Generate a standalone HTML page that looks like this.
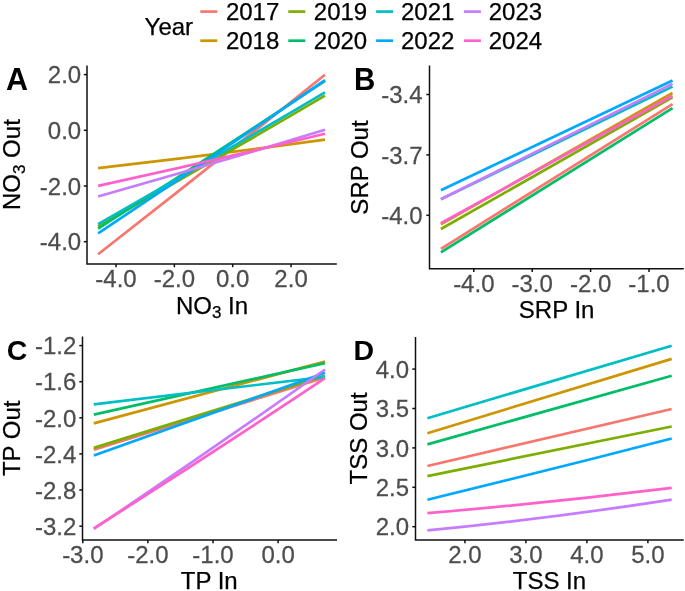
<!DOCTYPE html>
<html><head><meta charset="utf-8"><style>
html,body{margin:0;padding:0;background:#fff;}
svg{display:block;will-change:transform;}
text{font-family:"Liberation Sans",sans-serif;}
.t{font-size:24px;fill:#000;stroke:#000;stroke-width:0.25px;}
.l{font-size:24px;fill:#4D4D4D;stroke:#4D4D4D;stroke-width:0.25px;}
.b{font-weight:bold;fill:#000;}
</style></head><body>
<svg width="685" height="591" viewBox="0 0 685 591">
<rect width="685" height="591" fill="#fff"/>
<text transform="translate(144.60 34.70) scale(1 1.0)" class="t">Year</text>
<line x1="200.3" y1="11.6" x2="217.3" y2="11.6" stroke="#F8766D" stroke-width="2.7"/>
<text transform="translate(225.90 20.35) scale(1 1.0)" class="t">2017</text>
<line x1="200.3" y1="40.7" x2="217.3" y2="40.7" stroke="#CD9600" stroke-width="2.7"/>
<text transform="translate(225.90 49.40) scale(1 1.0)" class="t">2018</text>
<line x1="288.3" y1="11.6" x2="305.3" y2="11.6" stroke="#7CAE00" stroke-width="2.7"/>
<text transform="translate(313.80 20.35) scale(1 1.0)" class="t">2019</text>
<line x1="288.3" y1="40.7" x2="305.3" y2="40.7" stroke="#00BE67" stroke-width="2.7"/>
<text transform="translate(313.80 49.40) scale(1 1.0)" class="t">2020</text>
<line x1="376.1" y1="11.6" x2="393.1" y2="11.6" stroke="#00BFC4" stroke-width="2.7"/>
<text transform="translate(401.00 20.35) scale(1 1.0)" class="t">2021</text>
<line x1="376.1" y1="40.7" x2="393.1" y2="40.7" stroke="#00A9FF" stroke-width="2.7"/>
<text transform="translate(401.00 49.40) scale(1 1.0)" class="t">2022</text>
<line x1="463.9" y1="11.6" x2="480.9" y2="11.6" stroke="#C77CFF" stroke-width="2.7"/>
<text transform="translate(488.70 20.35) scale(1 1.0)" class="t">2023</text>
<line x1="463.9" y1="40.7" x2="480.9" y2="40.7" stroke="#FF61CC" stroke-width="2.7"/>
<text transform="translate(488.70 49.40) scale(1 1.0)" class="t">2024</text>
<path d="M87 65.4V264H336.8" fill="none" stroke="#111111" stroke-width="1.5" stroke-linecap="butt" stroke-linejoin="miter"/>
<line x1="83.8" y1="74.6" x2="87" y2="74.6" stroke="#111111" stroke-width="1.5"/>
<text transform="translate(81.20 83.30) scale(1 1.02)" class="l" text-anchor="end">2.0</text>
<line x1="83.8" y1="130.3" x2="87" y2="130.3" stroke="#111111" stroke-width="1.5"/>
<text transform="translate(81.20 139.00) scale(1 1.02)" class="l" text-anchor="end">0.0</text>
<line x1="83.8" y1="186.0" x2="87" y2="186.0" stroke="#111111" stroke-width="1.5"/>
<text transform="translate(81.20 194.70) scale(1 1.02)" class="l" text-anchor="end">-2.0</text>
<line x1="83.8" y1="241.7" x2="87" y2="241.7" stroke="#111111" stroke-width="1.5"/>
<text transform="translate(81.20 250.40) scale(1 1.02)" class="l" text-anchor="end">-4.0</text>
<line x1="116" y1="264" x2="116" y2="267.2" stroke="#111111" stroke-width="1.5"/>
<text transform="translate(116.00 287.30) scale(1 1.02)" class="l" text-anchor="middle">-4.0</text>
<line x1="174.35" y1="264" x2="174.35" y2="267.2" stroke="#111111" stroke-width="1.5"/>
<text transform="translate(174.35 287.30) scale(1 1.02)" class="l" text-anchor="middle">-2.0</text>
<line x1="232.7" y1="264" x2="232.7" y2="267.2" stroke="#111111" stroke-width="1.5"/>
<text transform="translate(232.70 287.30) scale(1 1.02)" class="l" text-anchor="middle">0.0</text>
<line x1="291.05" y1="264" x2="291.05" y2="267.2" stroke="#111111" stroke-width="1.5"/>
<text transform="translate(291.05 287.30) scale(1 1.02)" class="l" text-anchor="middle">2.0</text>
<path d="M98.1 254.30Q211.55 165.70 325 74.70" fill="none" stroke="#F8766D" stroke-width="2.7"/>
<path d="M98.1 168.10Q211.55 155.05 325 139.60" fill="none" stroke="#CD9600" stroke-width="2.7"/>
<path d="M98.1 226.30Q211.55 162.15 325 95.60" fill="none" stroke="#7CAE00" stroke-width="2.7"/>
<path d="M98.1 228.60Q211.55 155.90 325 80.80" fill="none" stroke="#00BE67" stroke-width="2.7"/>
<path d="M98.1 224.20Q211.55 159.50 325 92.40" fill="none" stroke="#00BFC4" stroke-width="2.7"/>
<path d="M98.1 233.40Q211.55 157.95 325 80.10" fill="none" stroke="#00A9FF" stroke-width="2.7"/>
<path d="M98.1 196.50Q211.55 164.35 325 129.80" fill="none" stroke="#C77CFF" stroke-width="2.7"/>
<path d="M98.1 185.90Q211.55 161.05 325 133.80" fill="none" stroke="#FF61CC" stroke-width="2.7"/>
<text transform="translate(212.00 313.80) scale(1 1.0)" class="t" text-anchor="middle">NO<tspan style="font-size:17px" dy="4.2">3</tspan><tspan dy="-4.2"> In</tspan></text>
<text transform="translate(20.4 164.6) rotate(-90)" class="t" text-anchor="middle">NO<tspan style="font-size:17px" dy="4.2">3</tspan><tspan dy="-4.2"> Out</tspan></text>
<text transform="translate(5.90 89.90) scale(1 1.0)" class="b" style="font-size:30.5px">A</text>
<path d="M429.5 65.6V268.8H683.8" fill="none" stroke="#111111" stroke-width="1.5" stroke-linecap="butt" stroke-linejoin="miter"/>
<line x1="426.3" y1="94.5" x2="429.5" y2="94.5" stroke="#111111" stroke-width="1.5"/>
<text transform="translate(422.50 103.20) scale(1 1.02)" class="l" text-anchor="end">-3.4</text>
<line x1="426.3" y1="154.9" x2="429.5" y2="154.9" stroke="#111111" stroke-width="1.5"/>
<text transform="translate(422.50 163.60) scale(1 1.02)" class="l" text-anchor="end">-3.7</text>
<line x1="426.3" y1="215.3" x2="429.5" y2="215.3" stroke="#111111" stroke-width="1.5"/>
<text transform="translate(422.50 224.00) scale(1 1.02)" class="l" text-anchor="end">-4.0</text>
<line x1="473.8" y1="268.8" x2="473.8" y2="272.0" stroke="#111111" stroke-width="1.5"/>
<text transform="translate(473.80 292.40) scale(1 1.02)" class="l" text-anchor="middle">-4.0</text>
<line x1="532.2" y1="268.8" x2="532.2" y2="272.0" stroke="#111111" stroke-width="1.5"/>
<text transform="translate(532.20 292.40) scale(1 1.02)" class="l" text-anchor="middle">-3.0</text>
<line x1="590.6" y1="268.8" x2="590.6" y2="272.0" stroke="#111111" stroke-width="1.5"/>
<text transform="translate(590.60 292.40) scale(1 1.02)" class="l" text-anchor="middle">-2.0</text>
<line x1="649.0" y1="268.8" x2="649.0" y2="272.0" stroke="#111111" stroke-width="1.5"/>
<text transform="translate(649.00 292.40) scale(1 1.02)" class="l" text-anchor="middle">-1.0</text>
<line x1="440.9" y1="248.80" x2="672.5" y2="104.20" stroke="#F8766D" stroke-width="2.7"/>
<line x1="440.9" y1="224.40" x2="672.5" y2="93.00" stroke="#CD9600" stroke-width="2.7"/>
<line x1="440.9" y1="229.00" x2="672.5" y2="97.40" stroke="#7CAE00" stroke-width="2.7"/>
<line x1="440.9" y1="252.30" x2="672.5" y2="108.20" stroke="#00BE67" stroke-width="2.7"/>
<line x1="440.9" y1="199.30" x2="672.5" y2="86.60" stroke="#00BFC4" stroke-width="2.7"/>
<line x1="440.9" y1="190.30" x2="672.5" y2="80.50" stroke="#00A9FF" stroke-width="2.7"/>
<line x1="440.9" y1="199.20" x2="672.5" y2="83.90" stroke="#C77CFF" stroke-width="2.7"/>
<line x1="440.9" y1="223.30" x2="672.5" y2="95.70" stroke="#FF61CC" stroke-width="2.7"/>
<text transform="translate(556.60 318.10) scale(1 1.0)" class="t" text-anchor="middle">SRP In</text>
<text transform="translate(367.5 167.5) rotate(-90)" class="t" text-anchor="middle">SRP Out</text>
<text transform="translate(353.90 90.00) scale(1 1.04)" class="b" style="font-size:29.5px">B</text>
<path d="M82.5 336.6V540.0H337" fill="none" stroke="#111111" stroke-width="1.5" stroke-linecap="butt" stroke-linejoin="miter"/>
<line x1="79.3" y1="345.6" x2="82.5" y2="345.6" stroke="#111111" stroke-width="1.5"/>
<text transform="translate(76.30 354.30) scale(1 1.02)" class="l" text-anchor="end">-1.2</text>
<line x1="79.3" y1="381.7" x2="82.5" y2="381.7" stroke="#111111" stroke-width="1.5"/>
<text transform="translate(76.30 390.40) scale(1 1.02)" class="l" text-anchor="end">-1.6</text>
<line x1="79.3" y1="417.8" x2="82.5" y2="417.8" stroke="#111111" stroke-width="1.5"/>
<text transform="translate(76.30 426.50) scale(1 1.02)" class="l" text-anchor="end">-2.0</text>
<line x1="79.3" y1="453.9" x2="82.5" y2="453.9" stroke="#111111" stroke-width="1.5"/>
<text transform="translate(76.30 462.60) scale(1 1.02)" class="l" text-anchor="end">-2.4</text>
<line x1="79.3" y1="490.0" x2="82.5" y2="490.0" stroke="#111111" stroke-width="1.5"/>
<text transform="translate(76.30 498.70) scale(1 1.02)" class="l" text-anchor="end">-2.8</text>
<line x1="79.3" y1="526.2" x2="82.5" y2="526.2" stroke="#111111" stroke-width="1.5"/>
<text transform="translate(76.30 534.90) scale(1 1.02)" class="l" text-anchor="end">-3.2</text>
<line x1="82.8" y1="540.0" x2="82.8" y2="543.2" stroke="#111111" stroke-width="1.5"/>
<text transform="translate(82.80 562.70) scale(1 1.02)" class="l" text-anchor="middle">-3.0</text>
<line x1="147.9" y1="540.0" x2="147.9" y2="543.2" stroke="#111111" stroke-width="1.5"/>
<text transform="translate(147.90 562.70) scale(1 1.02)" class="l" text-anchor="middle">-2.0</text>
<line x1="213.0" y1="540.0" x2="213.0" y2="543.2" stroke="#111111" stroke-width="1.5"/>
<text transform="translate(213.00 562.70) scale(1 1.02)" class="l" text-anchor="middle">-1.0</text>
<line x1="278.1" y1="540.0" x2="278.1" y2="543.2" stroke="#111111" stroke-width="1.5"/>
<text transform="translate(278.10 562.70) scale(1 1.02)" class="l" text-anchor="middle">0.0</text>
<line x1="93.8" y1="449.60" x2="325" y2="377.50" stroke="#F8766D" stroke-width="2.7"/>
<line x1="93.8" y1="423.40" x2="325" y2="361.50" stroke="#CD9600" stroke-width="2.7"/>
<line x1="93.8" y1="447.90" x2="325" y2="375.80" stroke="#7CAE00" stroke-width="2.7"/>
<line x1="93.8" y1="414.60" x2="325" y2="363.10" stroke="#00BE67" stroke-width="2.7"/>
<line x1="93.8" y1="404.30" x2="325" y2="376.80" stroke="#00BFC4" stroke-width="2.7"/>
<line x1="93.8" y1="455.40" x2="325" y2="372.80" stroke="#00A9FF" stroke-width="2.7"/>
<path d="M93.8 528.90Q209.40 451.20 325 369.50" fill="none" stroke="#C77CFF" stroke-width="2.7"/>
<path d="M93.8 528.40Q209.40 455.25 325 378.10" fill="none" stroke="#FF61CC" stroke-width="2.7"/>
<text transform="translate(209.20 588.80) scale(1 1.0)" class="t" text-anchor="middle">TP In</text>
<text transform="translate(20.3 438.3) rotate(-90)" class="t" text-anchor="middle">TP Out</text>
<text transform="translate(6.70 360.20) scale(1 1.0)" class="b" style="font-size:28.5px">C</text>
<path d="M415.5 336.9V540.0H683.8" fill="none" stroke="#111111" stroke-width="1.5" stroke-linecap="butt" stroke-linejoin="miter"/>
<line x1="412.3" y1="369.1" x2="415.5" y2="369.1" stroke="#111111" stroke-width="1.5"/>
<text transform="translate(409.10 377.80) scale(1 1.02)" class="l" text-anchor="end">4.0</text>
<line x1="412.3" y1="408.5" x2="415.5" y2="408.5" stroke="#111111" stroke-width="1.5"/>
<text transform="translate(409.10 417.20) scale(1 1.02)" class="l" text-anchor="end">3.5</text>
<line x1="412.3" y1="447.9" x2="415.5" y2="447.9" stroke="#111111" stroke-width="1.5"/>
<text transform="translate(409.10 456.60) scale(1 1.02)" class="l" text-anchor="end">3.0</text>
<line x1="412.3" y1="487.3" x2="415.5" y2="487.3" stroke="#111111" stroke-width="1.5"/>
<text transform="translate(409.10 496.00) scale(1 1.02)" class="l" text-anchor="end">2.5</text>
<line x1="412.3" y1="526.7" x2="415.5" y2="526.7" stroke="#111111" stroke-width="1.5"/>
<text transform="translate(409.10 535.40) scale(1 1.02)" class="l" text-anchor="end">2.0</text>
<line x1="464.9" y1="540.0" x2="464.9" y2="543.2" stroke="#111111" stroke-width="1.5"/>
<text transform="translate(464.90 562.50) scale(1 1.02)" class="l" text-anchor="middle">2.0</text>
<line x1="525.9" y1="540.0" x2="525.9" y2="543.2" stroke="#111111" stroke-width="1.5"/>
<text transform="translate(525.90 562.50) scale(1 1.02)" class="l" text-anchor="middle">3.0</text>
<line x1="586.9" y1="540.0" x2="586.9" y2="543.2" stroke="#111111" stroke-width="1.5"/>
<text transform="translate(586.90 562.50) scale(1 1.02)" class="l" text-anchor="middle">4.0</text>
<line x1="647.9" y1="540.0" x2="647.9" y2="543.2" stroke="#111111" stroke-width="1.5"/>
<text transform="translate(647.90 562.50) scale(1 1.02)" class="l" text-anchor="middle">5.0</text>
<line x1="427.4" y1="466.00" x2="671.7" y2="409.00" stroke="#F8766D" stroke-width="2.7"/>
<line x1="427.4" y1="433.20" x2="671.7" y2="358.90" stroke="#CD9600" stroke-width="2.7"/>
<line x1="427.4" y1="476.10" x2="671.7" y2="426.50" stroke="#7CAE00" stroke-width="2.7"/>
<line x1="427.4" y1="444.40" x2="671.7" y2="375.80" stroke="#00BE67" stroke-width="2.7"/>
<line x1="427.4" y1="418.20" x2="671.7" y2="345.70" stroke="#00BFC4" stroke-width="2.7"/>
<path d="M427.4 499.70Q549.55 470.10 671.7 438.50" fill="none" stroke="#00A9FF" stroke-width="2.7"/>
<path d="M427.4 530.30Q549.55 518.60 671.7 499.70" fill="none" stroke="#C77CFF" stroke-width="2.7"/>
<path d="M427.4 513.20Q549.55 502.70 671.7 487.80" fill="none" stroke="#FF61CC" stroke-width="2.7"/>
<text transform="translate(549.40 588.50) scale(1 1.0)" class="t" text-anchor="middle">TSS In</text>
<text transform="translate(367.4 438.4) rotate(-90)" class="t" text-anchor="middle">TSS Out</text>
<text transform="translate(353.50 359.80) scale(1 1.0)" class="b" style="font-size:28.5px">D</text>
</svg>
</body></html>
